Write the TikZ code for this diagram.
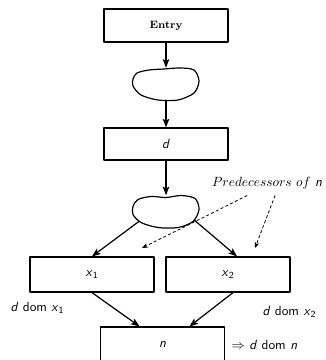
\documentclass[tikz,border=0pt]{standalone}
\usetikzlibrary{arrows.meta,calc,shapes.geometric}
\newcommand{\sv}[1]{\textsf{\textit{#1}}}
\newcommand{\svsub}[2]{\textsf{\textit{#1}}\textsubscript{\textsf{#2}}}

\begin{document}
\begin{tikzpicture}[line cap=round,line join=round,x=0.75pt,y=-0.75pt,
	>={Stealth[length=6.5pt,width=5pt,inset=1.5pt]},
	every node/.style={font=\normalsize},
	box/.style={draw,line width=0.9pt,minimum width=93pt,inner sep=0pt},
	blob/.style={ellipse,minimum width=50pt,minimum height=24pt,inner sep=0pt},
	flow/.style={->,line width=0.9pt},
	hint/.style={-{Stealth[length=4.5pt,width=3.5pt]},line width=0.6pt,dash pattern=on 2pt off 2pt}]

\useasboundingbox (0,0) rectangle (325,360);
\clip (0,0) rectangle (325,360);

\node[box,minimum height=24.75pt,font=\footnotesize\bfseries] (entry) at (166,25.5) {Entry};
\node[blob] (b1) at (166,84) {};
\node[box,minimum height=24pt] (d) at (166,144) {\sv{d}};
\node[blob] (b2) at (166,211.5) {};
\node[box,minimum height=26.25pt] (x1) at (92,274.5) {\svsub{x}{1}};
\node[box,minimum height=26.25pt] (x2) at (228,274.5) {\svsub{x}{2}};
\node[box,minimum height=26.25pt] (n) at (162.5,344.5) {\sv{n}};

% the two blobs
\draw[line width=0.9pt,shift={(b1.center)}] plot[smooth cycle] coordinates
	{(-29,-11) (-17,-14) (-2,-15) (14,-16) (28,-14) (33,-3) (28,9) (12,16) (-8,16) (-25,11) (-33,2) (-33,-5)};
\draw[line width=0.9pt,shift={(b2.center)}] plot[smooth cycle] coordinates
	{(-28,-12) (-15,-15) (0,-14) (15,-16) (29,-13) (33,-2) (27,10) (12,16) (-8,16) (-25,11) (-33,3) (-33,-5)};

\draw[flow] (entry.south) -- (b1.north);
\draw[flow] (b1.south) -- (d.north);
\draw[flow] (d.south) -- (b2.north);
\draw[flow] (b2.200) -- (x1.north);
\draw[flow] (b2.-17) -- ($(x2.north)+(9,0)$);
\draw[flow] (x1.south) -- ($(n.north)+(-23,0)$);
\draw[flow] ($(x2.south)+(5,0)$) -- ($(n.north)+(27,0)$);

\node (pred) at (267,183) {$Predecessors\ of$ \sv{n}};
\coordinate (p1) at (142,248);
\coordinate (p2) at (255,248);
\draw[hint] ($(pred.south)+(-20,2)$) -- (p1);
\draw[hint] ($(pred.south)+(8,2)$) -- (p2);

\node[anchor=west,font=\sffamily] (dx1) at (6,308) {\sv{d} dom \svsub{x}{1}};
\node[anchor=west,font=\sffamily] (dx2) at (258,312) {\sv{d} dom \svsub{x}{2}};
\node[anchor=west,font=\sffamily] (dn) at (227,345) {$\Rightarrow$\ \sv{d} dom \sv{n}};
\end{tikzpicture}
\end{document}
